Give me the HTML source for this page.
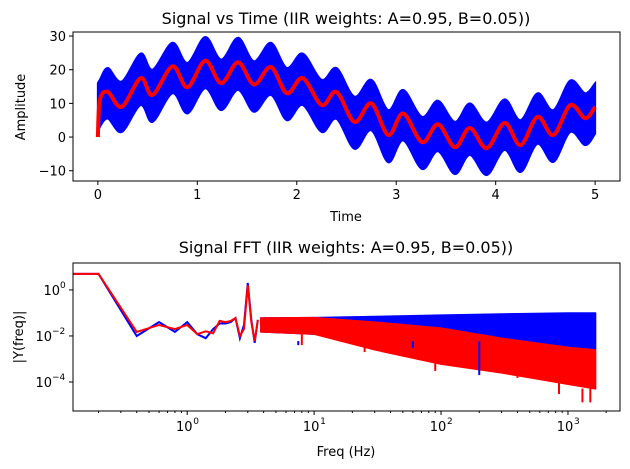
<!DOCTYPE html>
<html><head><meta charset="utf-8">
<style>
html,body{margin:0;padding:0;background:#fff;}
svg{display:block;font-family:"DejaVu Sans","Liberation Sans",sans-serif;}
</style></head>
<body>
<svg id="fig" width="630" height="469" viewBox="0 0 630 469">
  <rect width="630" height="469" fill="#fff"/>
  <text x="346" y="24" font-size="16" text-anchor="middle">Signal vs Time (IIR weights: A=0.95, B=0.05))</text>
  <text x="346" y="253" font-size="16" text-anchor="middle">Signal FFT (IIR weights: A=0.95, B=0.05))</text>
  <g id="topG"></g>
  <g id="botG"></g>
  <text x="346" y="221" font-size="13" text-anchor="middle">Time</text>
  <text x="346" y="456" font-size="13" text-anchor="middle">Freq (Hz)</text>
  <text transform="translate(25,107) rotate(-90)" font-size="13" text-anchor="middle">Amplitude</text>
  <text transform="translate(23,337) rotate(-90)" font-size="13" text-anchor="middle">|Y(freq)|</text>
</svg>
<script>
// ---- time-domain data ----
const times = [0,0.02,0.1,0.24,0.43,0.55,0.75,0.9,1.08,1.24,1.41,1.57,1.74,1.9,2.06,2.25,2.4,2.58,2.75,2.92,3.07,3.26,3.42,3.59,3.74,3.91,4.09,4.25,4.42,4.58,4.75,4.9,5.0];
const filtered = [0,11,13.4,9,17.5,12.5,21,14.8,22.7,16,22.2,15.6,20.8,13,17.5,9.5,13.4,4.5,10,0.6,7,-1.5,3.8,-3,2.7,-3.3,4.2,-2.4,6,0.6,9.5,5.6,9];
const rawUpper = [16,17,20.5,16.5,24.8,20,28,22,29.7,23,29.5,22.5,28,20.5,24.8,17,20.5,12,17,8,14,6,10.8,4.5,10,4.3,11.2,5,13,8,16.8,13,16];
const rawLower = [1,3,5.5,1.5,9.5,4.5,13,7,14.5,8,14,7.5,12.5,5,9.5,1.5,5.4,-3.5,2,-7.5,-1,-9.5,-4.2,-11,-5.3,-11.3,-3.8,-10.4,-2,-7.4,1.5,-2.4,1];
const timeTicks = [0,1,2,3,4,5];
const ampTicks = [-10,0,10,20,30];
// ---- FFT data ----
const lowFreqs = [0.1,0.2,0.4,0.6,0.8,1.0,1.2,1.4,1.6,1.8,2.0,2.2,2.4,2.6,2.8,3.0,3.2,3.4,3.6];
const lowRaw = [5,5,0.01,0.04,0.015,0.04,0.012,0.008,0.02,0.035,0.035,0.04,0.06,0.008,0.03,2,0.05,0.005,0.05];
const lowFilt = [5,5,0.015,0.03,0.02,0.03,0.012,0.016,0.013,0.045,0.04,0.045,0.06,0.01,0.02,1.6,0.04,0.006,0.05];
const bandFreqs = [3.8,10,30,100,300,1000,1650];
const rawBandUpper = [0.06,0.063,0.07,0.08,0.09,0.1,0.1];
const rawBandLower = [0.015,0.012,0.005,0.004,0.0032,0.0028,0.0028];
const filtBandUpper = [0.06,0.063,0.04,0.022,0.008,0.0032,0.0025];
const filtBandLower = [0.015,0.012,0.0025,0.0006,0.00025,0.00008,0.00005];
const rawSpikeF = [7.5,60,200];
const rawSpikeV = [0.004,0.003,0.0002];
const filtSpikeF = [8,25,90,400,850,1300,1500];
const filtSpikeV = [0.004,0.002,0.0003,0.00015,0.00003,0.000013,0.000013];
const freqTicks = [1,10,100,1000];
const freqTickLabels = ["0","1","2","3"];
const magTicks = [1,0.01,0.0001];
const magTickLabels = ["0","\u22122","\u22124"];

const NS="http://www.w3.org/2000/svg";
function mk(parent,tag,attrs){const e=document.createElementNS(NS,tag);for(const k in attrs)e.setAttribute(k,attrs[k]);parent.appendChild(e);return e;}
function smooth(P){let d='M'+P[0][0]+','+P[0][1];
  for(let i=0;i<P.length-1;i++){const p0=P[Math.max(0,i-1)],p1=P[i],p2=P[i+1],p3=P[Math.min(P.length-1,i+2)];
    const c1x=p1[0]+(p2[0]-p0[0])/6,c1y=p1[1]+(p2[1]-p0[1])/6,c2x=p2[0]-(p3[0]-p1[0])/6,c2y=p2[1]-(p3[1]-p1[1])/6;
    d+=' C'+c1x+','+c1y+' '+c2x+','+c2y+' '+p2[0]+','+p2[1];}
  return d;}

// top axes
const T={l:73,r:620,t:32,b:181,x0:-0.25,x1:5.25,y0:-13.05,y1:31.2};
const tx=v=>T.l+(v-T.x0)/(T.x1-T.x0)*(T.r-T.l);
const ty=v=>T.b-(v-T.y0)/(T.y1-T.y0)*(T.b-T.t);
const topG=document.getElementById('topG');
const upP=times.map((t,i)=>[tx(t),ty(rawUpper[i])]);
const loP=times.map((t,i)=>[tx(t),ty(rawLower[i])]).reverse();
const bandD=smooth(upP)+' L'+loP[0][0]+','+loP[0][1]+smooth(loP).replace(/^M[^C]*/,' ')+' Z';
const band=mk(topG,'path',{d:bandD,fill:'#0000ff',stroke:'#0000ff','stroke-width':2});


const rl=mk(topG,'path',{d:smooth(times.map((t,i)=>[tx(t),ty(filtered[i])])),fill:'none',stroke:'#ff0000','stroke-width':4,'stroke-linejoin':'round'});


const tf=mk(topG,'rect',{x:T.l,y:T.t,width:T.r-T.l,height:T.b-T.t,fill:'none',stroke:'#000','stroke-width':1});


timeTicks.forEach(v=>{const x=tx(v);mk(topG,'line',{x1:x,x2:x,y1:T.b,y2:T.b+4,stroke:'#000'});
  const t=mk(topG,'text',{x:x,y:T.b+18,'font-size':13,'text-anchor':'middle'});t.textContent=v;
  
  });
ampTicks.forEach(v=>{const y=ty(v);mk(topG,'line',{x1:T.l-4,x2:T.l,y1:y,y2:y,stroke:'#000'});
  const t=mk(topG,'text',{x:T.l-7,y:y+5,'font-size':13,'text-anchor':'end'});t.textContent=v<0?'\u2212'+(-v):v;
  
  });

// bottom axes (log-log)
const B={l:73,r:620,t:263,b:411,lx0:-0.9,lx1:3.41,ly0:-5.26,ly1:1.17};
const bx=f=>B.l+(Math.log10(f)-B.lx0)/(B.lx1-B.lx0)*(B.r-B.l);
const by=v=>B.b-(Math.log10(v)-B.ly0)/(B.ly1-B.ly0)*(B.b-B.t);
const botG=document.getElementById('botG');
const clip=mk(botG,'clipPath',{id:'bc'});mk(clip,'rect',{x:B.l,y:B.t,width:B.r-B.l,height:B.b-B.t});
const g=mk(botG,'g',{'clip-path':'url(#bc)'});
function bandPoly(u,lo,col,name){const p=bandFreqs.map((f,i)=>bx(f)+','+by(u[i])).concat(bandFreqs.slice().reverse().map((f,j)=>{const i=bandFreqs.length-1-j;return bx(f)+','+by(lo[i]);}));
  const e=mk(g,'polygon',{points:p.join(' '),fill:col,stroke:col,'stroke-width':1.5,'stroke-linejoin':'round'});
  
  }
bandPoly(rawBandUpper,rawBandLower,'#0000ff','raw-fft-band');
const bl=mk(g,'polyline',{points:lowFreqs.map((f,i)=>bx(f)+','+by(lowRaw[i])).join(' '),fill:'none',stroke:'#0000ff','stroke-width':2});


bandPoly(filtBandUpper,filtBandLower,'#ff0000','filtered-fft-band');
rawSpikeF.forEach((f,i)=>{const e=mk(g,'line',{x1:bx(f),x2:bx(f),y1:by(0.006),y2:by(rawSpikeV[i]),stroke:'#0000ff','stroke-width':2});
  
  });
const fl=mk(g,'polyline',{points:lowFreqs.map((f,i)=>bx(f)+','+by(lowFilt[i])).join(' '),fill:'none',stroke:'#ff0000','stroke-width':2});


filtSpikeF.forEach((f,i)=>{const e=mk(g,'line',{x1:bx(f),x2:bx(f),y1:by(filtSpikeV[i]*4),y2:by(filtSpikeV[i]),stroke:'#ff0000','stroke-width':2});
  
  });
const bf=mk(botG,'rect',{x:B.l,y:B.t,width:B.r-B.l,height:B.b-B.t,fill:'none',stroke:'#000','stroke-width':1});


for(let d=-1;d<=3;d++)for(let m=2;m<=9;m++){const f=m*Math.pow(10,d);const x=bx(f);if(x<B.l||x>B.r)continue;mk(botG,'line',{x1:x,x2:x,y1:B.b,y2:B.b+2,stroke:'#000'});}
freqTicks.forEach((f,i)=>{const x=bx(f);mk(botG,'line',{x1:x,x2:x,y1:B.b,y2:B.b+4,stroke:'#000'});
  const t=mk(botG,'text',{x:x-3,y:B.b+20,'font-size':13,'text-anchor':'middle'});t.textContent='10';
  
  
  const s=mk(botG,'text',{x:x+6,y:B.b+13,'font-size':9});s.textContent=freqTickLabels[i];});
magTicks.forEach((v,i)=>{const y=by(v);mk(botG,'line',{x1:B.l-4,x2:B.l,y1:y,y2:y,stroke:'#000'});
  const t=mk(botG,'text',{x:B.l-7-(i?14:6),y:y+5,'font-size':13,'text-anchor':'end'});t.textContent='10';
  
  
  const s=mk(botG,'text',{x:B.l-7-(i?14:6),y:y-2,'font-size':9});s.textContent=magTickLabels[i];});
</script>
</body></html>
